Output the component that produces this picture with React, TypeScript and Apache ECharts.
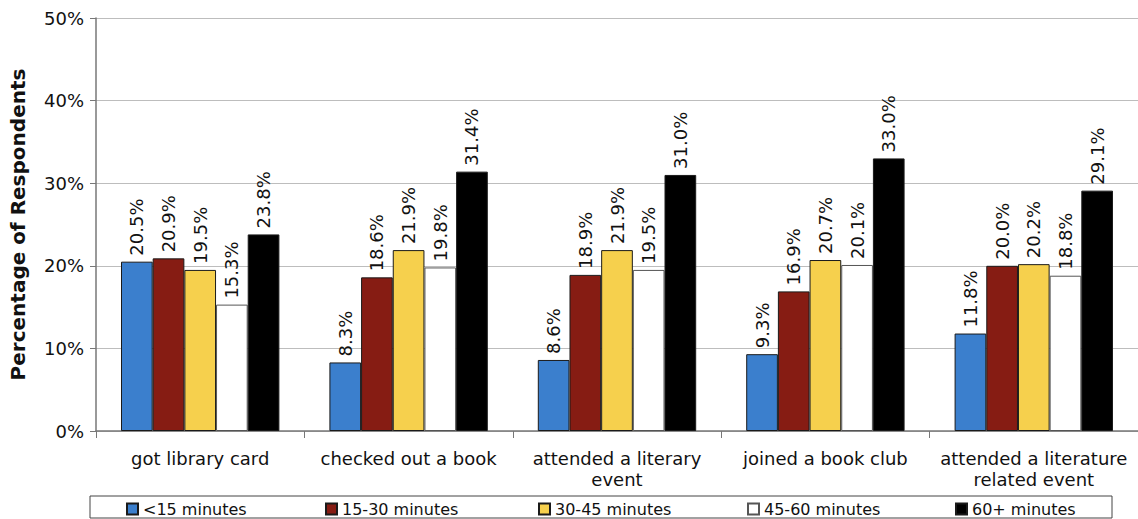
import React, { useEffect, useRef } from "react";
import * as echarts from "echarts";

const categories = [
  "got library card",
  "checked out a book",
  "attended a literary\nevent",
  "joined a book club",
  "attended a literature\nrelated event",
];

const seriesNames = ["<15 minutes", "15-30 minutes", "30-45 minutes", "45-60 minutes", "60+ minutes"];

const under15 = [20.5, 8.3, 8.6, 9.3, 11.8];
const from15to30 = [20.9, 18.6, 18.9, 16.9, 20.0];
const from30to45 = [19.5, 21.9, 21.9, 20.7, 20.2];
const from45to60 = [15.3, 19.8, 19.5, 20.1, 18.8];
const over60 = [23.8, 31.4, 31.0, 33.0, 29.1];

const seriesValues = [under15, from15to30, from30to45, from45to60, over60];
const seriesColors = ["#3B7FCD", "#861C13", "#F6D04D", "#FFFFFF", "#000000"];

// left edge of each legend entry inside the boxed key
const legendLefts = [126, 325, 538, 747, 955];

const FONT = "'DejaVu Sans', Verdana, sans-serif";

export default function App() {
  const ref = useRef<HTMLDivElement>(null);

  useEffect(() => {
    if (!ref.current) return;
    const chart = echarts.init(ref.current, undefined, { renderer: "svg" });

    const series = seriesNames.map((name, i) => ({
      name,
      type: "bar" as const,
      data: seriesValues[i],
      barGap: "0%",
      barCategoryGap: "24%",
      itemStyle: {
        color: seriesColors[i],
        borderColor: i === 3 ? "#555" : "#1a1a1a",
        borderWidth: 1,
      },
      label: {
        show: true,
        position: "top" as const,
        rotate: 90,
        align: "left" as const,
        verticalAlign: "middle" as const,
        distance: 6,
        color: "#111",
        fontFamily: FONT,
        fontSize: 18,
        formatter: (p: any) => `${Number(p.value).toFixed(1)}%`,
      },
    }));

    const legends = seriesNames.map((name, i) => ({
      left: legendLefts[i],
      top: 501,
      itemWidth: 11,
      itemHeight: 11,
      icon: "rect",
      padding: 0,
      textStyle: { fontFamily: FONT, fontSize: 16, color: "#111" },
      data: [name],
    }));

    chart.setOption({
      animation: false,
      backgroundColor: "#fff",
      grid: { left: 96, top: 18, right: -7, bottom: 88, containLabel: false },
      legend: legends,
      xAxis: {
        type: "category",
        data: categories,
        axisLine: { lineStyle: { color: "#777", width: 1.5 } },
        axisTick: { show: true, length: 7, lineStyle: { color: "#777" } },
        axisLabel: {
          fontFamily: FONT,
          fontSize: 18,
          color: "#111",
          margin: 17,
          lineHeight: 21,
          interval: 0,
        },
      },
      yAxis: {
        type: "value",
        min: 0,
        max: 50,
        interval: 10,
        name: "Percentage of Respondents",
        nameLocation: "middle",
        nameGap: 68,
        nameTextStyle: { fontFamily: FONT, fontSize: 20, fontWeight: "bold", color: "#111" },
        axisLine: { show: true, lineStyle: { color: "#777", width: 1.5 } },
        axisTick: { show: true, length: 6, lineStyle: { color: "#777" } },
        axisLabel: {
          fontFamily: FONT,
          fontSize: 18,
          color: "#111",
          margin: 12,
          formatter: (v: number) => `${v}%`,
        },
        splitLine: { lineStyle: { color: "#bdbdbd", width: 1 } },
      },
      graphic: [
        {
          type: "rect",
          shape: { x: 90, y: 496, width: 1022, height: 22 },
          style: { fill: "none", stroke: "#444", lineWidth: 1 },
          z: -1,
        },
      ],
      series,
    });

    return () => chart.dispose();
  }, []);

  return (
    <div
      ref={ref}
      style={{ position: "fixed", left: 0, top: 0, width: 1138, height: 519, background: "#fff" }}
    />
  );
}
